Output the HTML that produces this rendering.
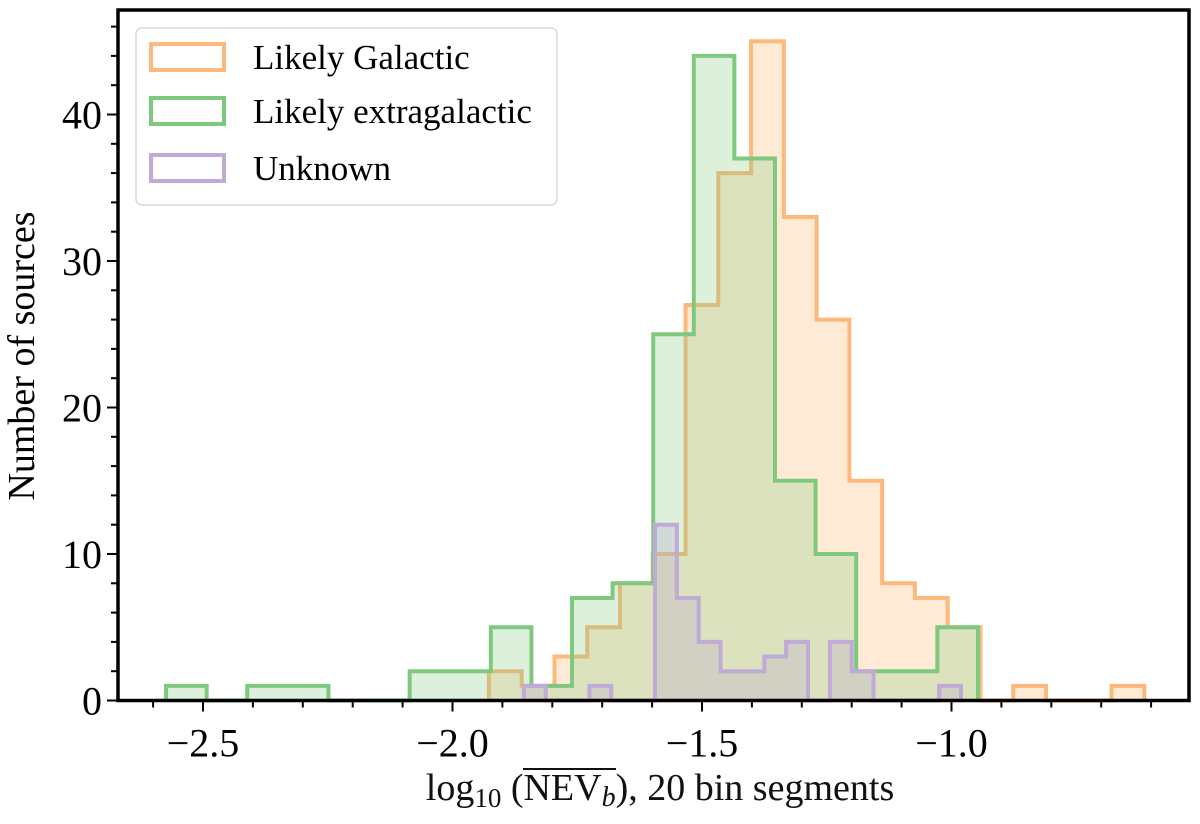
<!DOCTYPE html>
<html><head><meta charset="utf-8"><style>
body{margin:0;background:#fff;width:1200px;height:824px;overflow:hidden;font-family:"Liberation Serif",serif;}
#xl{position:absolute;left:0;width:1320px;top:766px;text-align:center;font-size:38px;color:#111;font-family:"Liberation Serif",serif;}
.ov{display:inline-block;border-top:2px solid #111;line-height:34px;padding-top:1px;}
svg text{font-family:"Liberation Serif",serif;}
</style></head><body>
<svg id="c" width="1200" height="824" style="position:absolute;left:0;top:0"></svg>
<div id="xl">log<span style="font-size:27px;vertical-align:-7px">10</span> (<span class="ov">NEV<i style="font-size:28px;vertical-align:-6px">b</i></span>), 20 bin segments</div>
<script>
const galStart=-1.927, galWidth=0.06567;
const galCounts=[2,1,3,5,8,10,27,36,45,33,26,15,8,7,5,0,1,0,0,1];
const extStart=-2.574, extWidth=0.08135;
const extCounts=[1,0,1,1,0,0,2,2,5,1,7,8,25,44,37,15,10,2,2,5];
const unkStart=-1.857, unkWidth=0.0438;
const unkCounts=[1,0,0,1,0,0,12,7,4,2,2,3,4,0,4,2,0,0,0,1];
const xTicks=[-2.5,-2.0,-1.5,-1.0];
const xTickLabels=["\u22122.5","\u22122.0","\u22121.5","\u22121.0"];
const yTicks=[0,10,20,30,40];
const L=118,R=1189,T=10,B=700.5;
const X=v=>702+(v+1.5)*499;
const Y=v=>B-v*14.65;
const svg=document.getElementById('c');
const NS='http://www.w3.org/2000/svg';
function mk(t,a,p){const e=document.createElementNS(NS,t);for(const k in a)e.setAttribute(k,a[k]);(p||svg).appendChild(e);return e;}
function hist(start,w,counts,stroke,fill,op,name){
  let d='M'+X(start)+' '+Y(0);
  counts.forEach((c,i)=>{d+=' L'+X(start+i*w)+' '+Y(c)+' L'+X(start+(i+1)*w)+' '+Y(c);});
  d+=' L'+X(start+counts.length*w)+' '+Y(0);
  const f=mk('path',{d:d+' Z',fill:fill,'fill-opacity':op,stroke:'none'});
  
  
  const s=mk('path',{d:d,fill:'none',stroke:stroke,'stroke-width':4,'stroke-linejoin':'miter'});
  
  
}
hist(galStart,galWidth,galCounts,'#fdb97c','#ffbb78',0.3,'likely-galactic-histogram');
hist(extStart,extWidth,extCounts,'#7fc97f','#80c880',0.28,'likely-extragalactic-histogram');
hist(unkStart,unkWidth,unkCounts,'#c0aad6','#b8a8cc',0.3,'unknown-histogram');
const fr=mk('rect',{x:L,y:T,width:R-L,height:B-T,fill:'none',stroke:'#000','stroke-width':3.5});


for(let v=-2.6;v<=-0.55;v+=0.1){const px=X(v);if(px<L||px>R)continue;
  const major=xTicks.some(t=>Math.abs(t-v)<1e-6);
  const tk=mk('line',{x1:px,x2:px,y1:B,y2:B+(major?11:7),stroke:'#000','stroke-width':2});
  
  }
xTicks.forEach((t,i)=>{const tx=mk('text',{x:X(t),y:B+56,'text-anchor':'middle','font-size':40});tx.textContent=xTickLabels[i];
  
  });
for(let v=0;v<=46;v+=2){const py=Y(v);const major=v%10===0;
  const tk=mk('line',{x1:L,x2:L-(major?11:7),y1:py,y2:py,stroke:'#000','stroke-width':2});
  
  }
yTicks.forEach(t=>{const tx=mk('text',{x:L-16,y:Y(t)+14,'text-anchor':'end','font-size':40});tx.textContent=String(t);
  
  });
const yl=mk('text',{x:0,y:0,transform:'translate(34,356) rotate(-90)','text-anchor':'middle','font-size':38});
yl.textContent='Number of sources';


const lg=mk('g',{});


mk('rect',{x:136,y:28,width:421,height:177,rx:6,fill:'#fff','fill-opacity':0.85,stroke:'#d8d8d8','stroke-width':1.5},lg);
const items=[['Likely Galactic','#fdb97c'],['Likely extragalactic','#7fc97f'],['Unknown','#c0aad6']];
const rows=[57,111,168];
items.forEach((it,i)=>{
  const r=mk('rect',{x:151,y:rows[i]-13,width:73,height:26,fill:'none',stroke:it[1],'stroke-width':4},lg);
  
  
  const t=mk('text',{x:253,y:rows[i]+12,'font-size':35},lg);
  t.textContent=it[0];
  
  
});
</script>
</body></html>
